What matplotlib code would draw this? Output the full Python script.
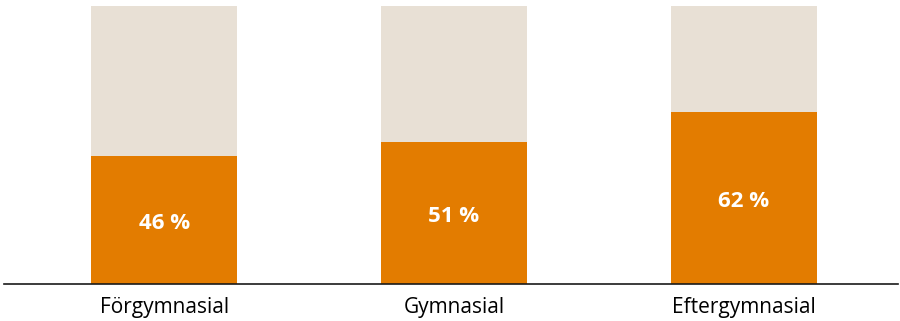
import matplotlib.pyplot as plt
import numpy as np

plt.rcParams['font.family'] = ['Open Sans', 'DejaVu Sans']

categories = ["Förgymnasial", "Gymnasial", "Eftergymnasial"]
shares = [46, 51, 62]
total = [100, 100, 100]

ORANGE = '#E37C00'
BEIGE = '#E8E0D5'

fig = plt.figure(figsize=(9, 3.21), dpi=100)
ax = fig.add_axes([4 / 900, 37 / 321, 894 / 900, 278 / 321])

x = np.arange(len(categories))
width = 0.503
ax.bar(x, total, width, color=BEIGE)
ax.bar(x, shares, width, color=ORANGE)

# percentage labels in the middle of the orange part
for xi, v in zip(x, shares):
    ax.text(xi, v / 2 - 1.2, f"{v} %", ha='center', va='center',
            color='white', fontsize=16, fontweight='bold')

ax.set_xlim(-0.552, 2.531)
ax.set_ylim(0, 100)
ax.set_xticks(x)
ax.set_xticklabels(categories, fontsize=15)
ax.tick_params(axis='x', length=0, pad=9)
ax.set_yticks([])
for side in ['top', 'right', 'left']:
    ax.spines[side].set_visible(False)
ax.spines['bottom'].set_linewidth(1.2)
ax.spines['bottom'].set_color('#1a1a1a')

fig.savefig('out.png', dpi=100)
